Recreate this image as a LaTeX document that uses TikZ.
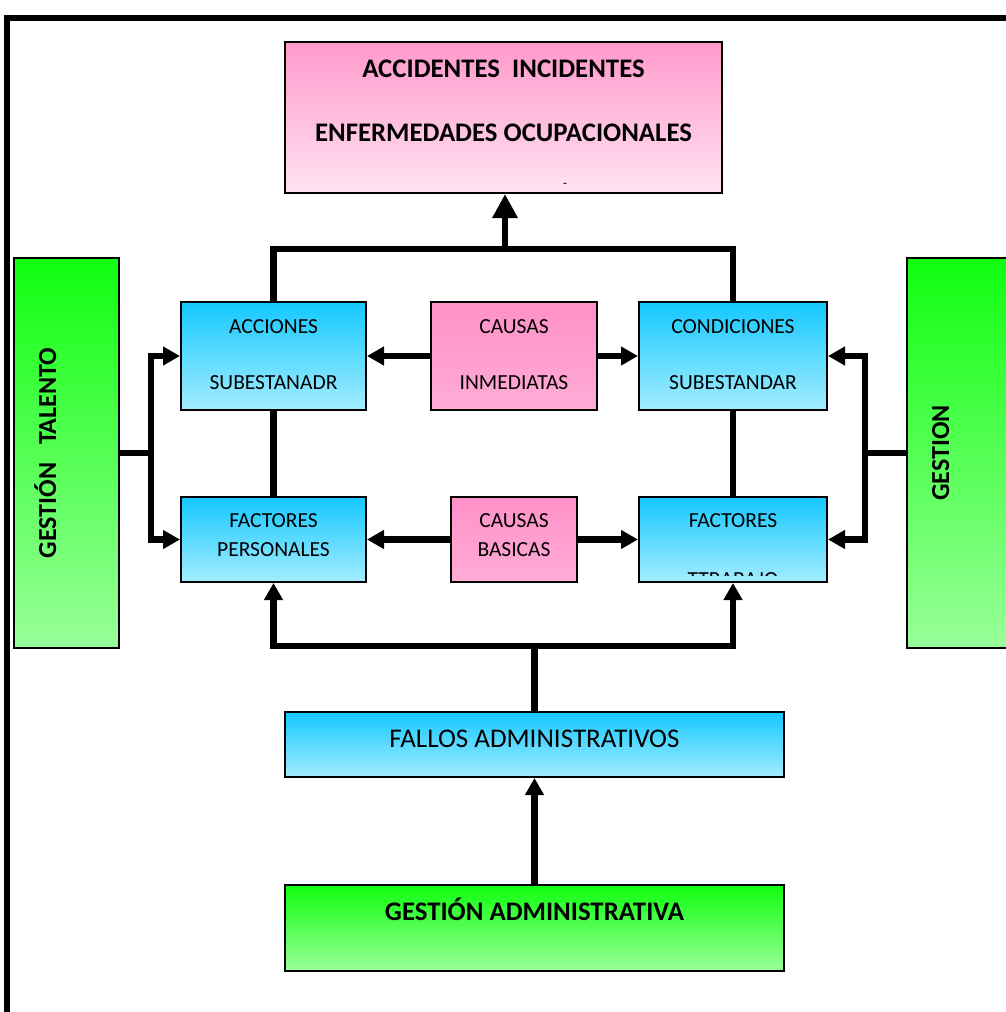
\documentclass[tikz,border=0pt]{standalone}
\usepackage{fontspec}
\setmainfont{Carlito}
\usetikzlibrary{arrows.meta}
\definecolor{bluetop}{HTML}{14C8FF}
\definecolor{bluebot}{HTML}{A4EDFF}
\definecolor{greentop}{HTML}{10FF10}
\definecolor{greenbot}{HTML}{99FF99}
\definecolor{pinktop}{HTML}{FF99CC}
\definecolor{pinkbot}{HTML}{FFE2F1}
\definecolor{pinkmidtop}{HTML}{FF90C8}
\definecolor{pinkmidbot}{HTML}{FFACD6}
\tikzset{
  box/.style={draw=black, line width=2pt, inner sep=0pt, rectangle},
  bluebox/.style={box, top color=bluetop, bottom color=bluebot},
  greenbox/.style={box, top color=greentop, bottom color=greenbot},
  pinkbox/.style={box, top color=pinktop, bottom color=pinkbot},
  causebox/.style={box, top color=pinkmidtop, bottom color=pinkmidbot},
  txt/.style={inner sep=0pt, text height=0.644em, text depth=0pt, font=\fontsize{21.5}{21.5}\selectfont},
  btxt/.style={txt, font=\fontsize{26.8}{26.8}\selectfont\bfseries},
  stxt/.style={txt, font=\fontsize{26}{26}\selectfont\bfseries},
  link/.style={line width=6.5pt, line cap=butt, line join=miter},
  arr/.style={link, -{Triangle[width=18pt,length=17pt]}},
  bigarr/.style={link, -{Triangle[width=24pt,length=24pt]}},
}
\begin{document}
\begin{tikzpicture}[x=1pt,y=-1pt]
\useasboundingbox (0,0) rectangle (1006,1012);
% outer frame
\coordinate (fb) at (7,1020);
\coordinate (fc) at (7,18);
\coordinate (fr) at (1015,18);
\draw[line width=6pt] (fb) -- (fc) -- (fr);

% boxes
\node[pinkbox, minimum width=437pt, minimum height=151pt] (top) at (503.5,117.5) {};
\node[bluebox, minimum width=185pt, minimum height=108pt] (acc) at (273.5,356) {};
\node[causebox, minimum width=166pt, minimum height=108pt] (ci) at (514,356) {};
\node[bluebox, minimum width=188pt, minimum height=108pt] (cond) at (733,356) {};
\node[bluebox, minimum width=185pt, minimum height=85pt] (fp) at (273.5,539.5) {};
\node[causebox, minimum width=126pt, minimum height=85pt] (cb) at (514,539.5) {};
\node[bluebox, minimum width=188pt, minimum height=85pt] (ft) at (733,539.5) {};
\node[bluebox, minimum width=499pt, minimum height=65pt] (fa) at (534.5,744.5) {};
\node[greenbox, minimum width=499pt, minimum height=86pt] (ga) at (534.5,928) {};
\node[greenbox, minimum width=105pt, minimum height=390pt] (gt) at (66.5,453) {};
\node[greenbox, minimum width=105pt, minimum height=390pt] (gr) at (959.5,453) {};

% texts
\node[btxt] (t1) at (503.5,74) {ACCIDENTES\ \ INCIDENTES};
\node[btxt] (t2) at (503.5,138) {ENFERMEDADES OCUPACIONALES};
\node[inner sep=0pt, font=\fontsize{13}{13}\selectfont] (tdash) at (565,185) {-};
\node[txt] (a1) at (273.5,330) {ACCIONES};
\node[txt] (a2) at (273.5,386) {SUBESTANADR};
\node[txt] (c1) at (514,330) {CAUSAS};
\node[txt] (c2) at (514,386) {INMEDIATAS};
\node[txt] (d1) at (733,330) {CONDICIONES};
\node[txt] (d2) at (733,386) {SUBESTANDAR};
\node[txt] (p1) at (273.5,524) {FACTORES};
\node[txt] (p2) at (273.5,553) {PERSONALES};
\node[txt] (b1) at (514,524) {CAUSAS};
\node[txt] (b2) at (514,553) {BASICAS};
\node[txt] (f1) at (733,524) {FACTORES};
\begin{scope}
  \clip (640,498) rectangle (826,575);
  \node[txt] (f2) at (733,583) {TTRABAJO};
\end{scope}
\node[txt, font=\fontsize{27}{27}\selectfont] (fat) at (534.5,744) {FALLOS ADMINISTRATIVOS};
\node[btxt] (gat) at (534.5,917) {GESTIÓN ADMINISTRATIVA};
\node[stxt, rotate=90] (gtt) at (53,453) {GESTIÓN\ \ \ TALENTO};
\node[stxt, rotate=90] (grt) at (946,453) {GESTION};

% connectors top
\draw[link] (acc.north) -- ++(0,-52) coordinate (tl) -| (cond.north);
\coordinate (tj) at (505,250);
\draw[bigarr] (tj) -- (tj |- top.south);
\draw[arr] (ci.west) -- (acc.east);
\draw[arr] (ci.east) -- (cond.west);
\draw[link] (acc.south) -- (fp.north);
\draw[link] (cond.south) -- (ft.north);
\draw[arr] (cb.west) -- (fp.east);
\draw[arr] (cb.east) -- (ft.west);
% bottom
\draw[link] (fa.north) -- ++(0,-65) coordinate (fj);
\draw[arr] (fj) -| (fp.south);
\draw[arr] (fj) -| (ft.south);
\draw[arr] (ga.north) -- (fa.south);
% left
\draw[link] (gt.east) -- ++(31,0) coordinate (lj);
\draw[arr] (lj) |- (acc.west);
\draw[arr] (lj) |- (fp.west);
% right
\draw[link] (gr.west) -- ++(-41,0) coordinate (rj);
\draw[arr] (rj) |- (cond.east);
\draw[arr] (rj) |- (ft.east);
\end{tikzpicture}
\end{document}
